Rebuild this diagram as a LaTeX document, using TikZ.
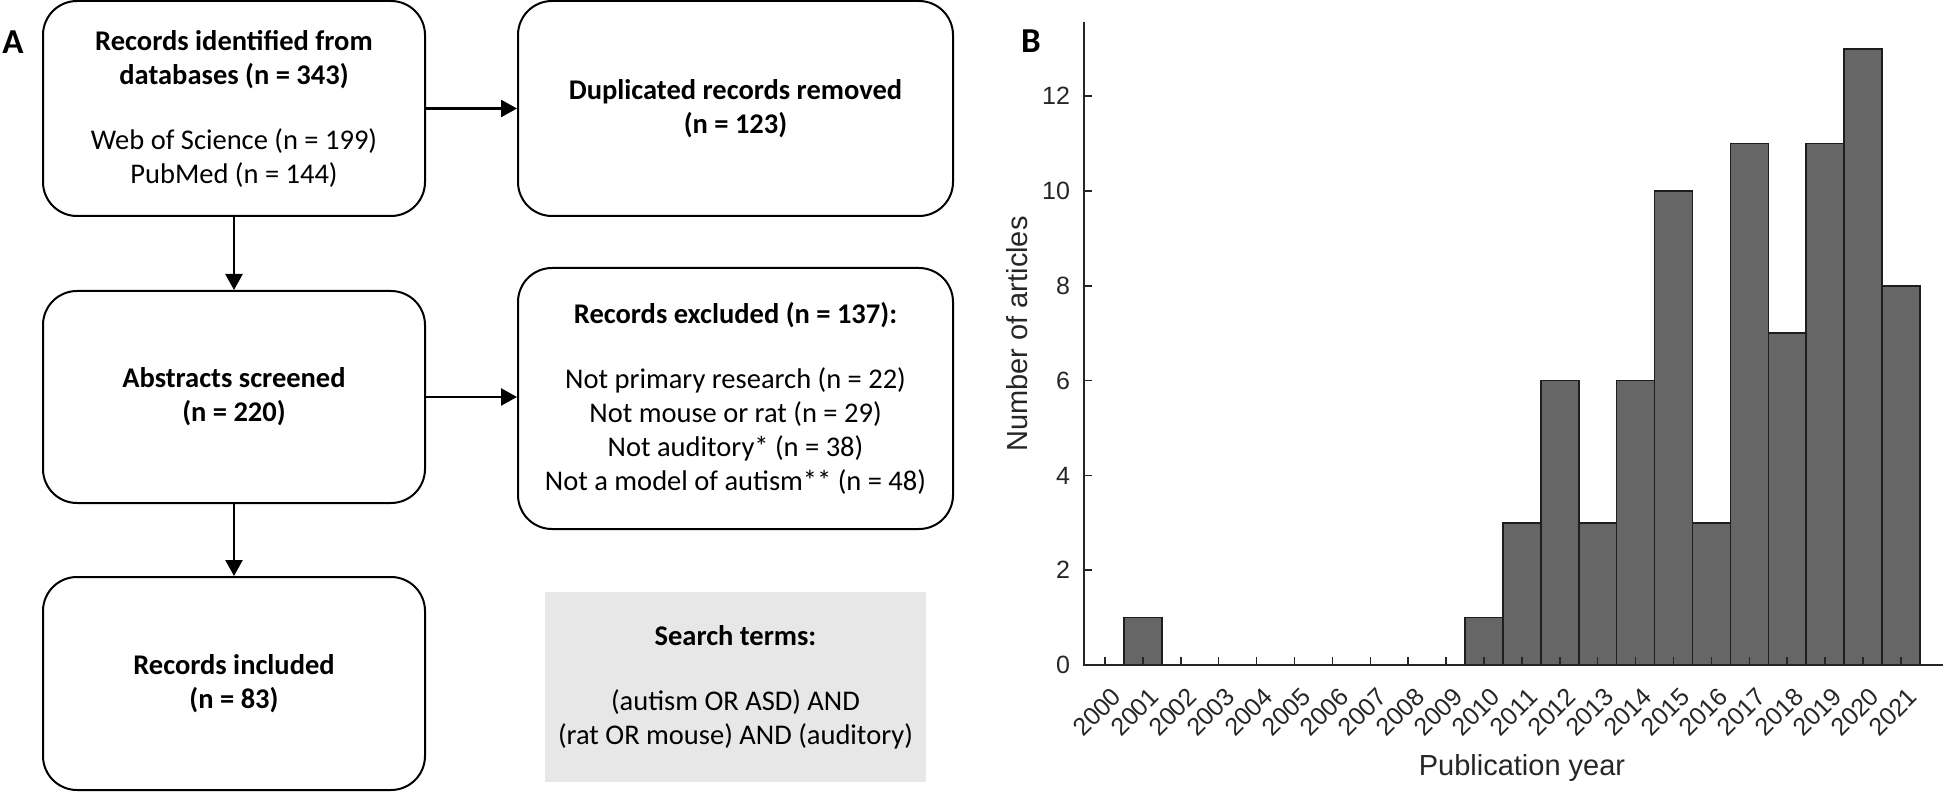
\documentclass[tikz,border=0pt]{standalone}
\usepackage{fontspec}
\setmainfont{Carlito}
\newfontfamily\plotfont{Liberation Sans}
\usetikzlibrary{arrows.meta,positioning}
\definecolor{AxisGray}{RGB}{38,38,38}
\definecolor{BarGray}{RGB}{102,102,102}
\definecolor{BarEdge}{RGB}{30,30,30}
\definecolor{TermGray}{RGB}{231,231,231}

\begin{document}
\begin{tikzpicture}[
    x=1pt, y=-1pt,
    line width=2pt,
    >={Triangle[length=16pt,width=17pt]},
    font=\fontsize{28.5}{34}\selectfont,
    flowbox/.style={draw, rounded corners=34pt, align=center, inner sep=0pt},
    termbox/.style={fill=TermGray, align=center, inner sep=0pt},
    flowarrow/.style={->, line width=2.5pt},
    axisline/.style={AxisGray, line width=1.5pt},
    barbox/.style={fill=BarGray, draw=BarEdge, line width=1.5pt},
    plottext/.style={AxisGray, font=\plotfont\fontsize{25}{25}\selectfont, inner sep=0pt}
]
  \useasboundingbox (0,0) rectangle (1944,799);

  % panel A
  \node[font=\bfseries\fontsize{35}{35}\selectfont] (panelA) at (13,42) {A};

  \node[flowbox, minimum width=382pt, minimum height=215pt] (recid) at (234,108.5)
    {\textbf{Records identified from}\\\textbf{databases (n = 343)}\\[31pt]Web of Science (n = 199)\\PubMed (n = 144)};
  \node[flowbox, minimum width=435pt, minimum height=215pt] (dup) at (735.5,108.5)
    {\textbf{Duplicated records removed}\\\textbf{(n = 123)}};
  \node[flowbox, minimum width=382pt, minimum height=212pt] (abs) at (234,397)
    {\textbf{Abstracts screened}\\\textbf{(n = 220)}};
  \node[flowbox, minimum width=435pt, minimum height=261pt] (excl) at (735.5,398.5)
    {\textbf{Records excluded (n = 137):}\\[31pt]Not primary research (n = 22)\\Not mouse or rat (n = 29)\\Not auditory* (n = 38)\\Not a model of autism** (n = 48)};
  \node[flowbox, minimum width=382pt, minimum height=213pt] (incl) at (234,683.5)
    {\textbf{Records included}\\\textbf{(n = 83)}};
  \node[termbox, minimum width=381pt, minimum height=190pt] (terms) at (735.5,687)
    {\textbf{Search terms:}\\[31pt](autism OR ASD) AND\\(rat OR mouse) AND (auditory)};

  \draw[flowarrow] (recid) -- (dup);
  \draw[flowarrow] (recid) -- (abs);
  \draw[flowarrow] (abs.east) -- (abs.east -| excl.west);
  \draw[flowarrow] (abs) -- (incl);

  % panel B
  \node[font=\bfseries\fontsize{35}{35}\selectfont] (panelB) at (1031,41) {B};

  \foreach \yr/\n in {2001/1,2010/1,2011/3,2012/6,2013/3,2014/6,2015/10,2016/3,2017/11,2018/7,2019/11,2020/13,2021/8} {
    \draw[barbox] ({1105+37.9*(\yr-2000)-18.95},665) rectangle ({1105+37.9*(\yr-2000)+18.95},{665-47.4*\n});
  }

  \draw[axisline] (1084,22) -- (1084,665) -- (1943,665);

  \foreach \yr in {2000,...,2021} {
    \draw[axisline] ({1105+37.9*(\yr-2000)},665) -- ++(0,-8);
    \node[plottext, rotate=45] (yr\yr) at ({1105+37.9*(\yr-2000)-8},712) {\yr};
  }

  \foreach \v in {0,2,...,12} {
    \draw[axisline] (1084,{665-47.4*\v}) -- ++(8,0);
    \node[plottext, anchor=east] (cnt\v) at (1071,{665-47.4*\v}) {\v};
  }

  \node[plottext, font=\plotfont\fontsize{29}{29}\selectfont, rotate=90] (ytitle) at (1017,334) {Number of articles};
  \node[plottext, font=\plotfont\fontsize{29}{29}\selectfont] (xtitle) at (1522,768) {Publication year};
\end{tikzpicture}
\end{document}
